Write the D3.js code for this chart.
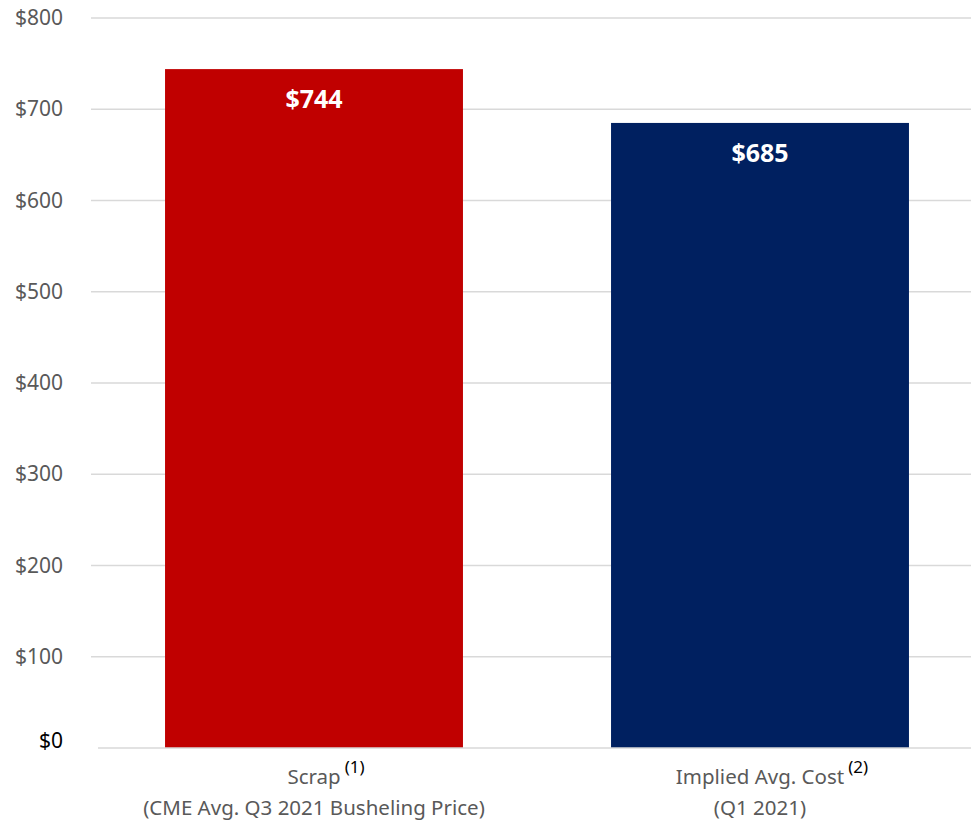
<!DOCTYPE html>
<html lang="en">
<head>
<meta charset="utf-8">
<title>Scrap vs Implied Avg. Cost</title>
<style>
body {
  margin: 0;
  background: #fff;
  font-family: "Noto Sans", "Open Sans", sans-serif;
}
</style>
</head>
<body>
<div id="app"></div>
<script src="https://cdn.jsdelivr.net/npm/d3@7/dist/d3.min.js"></script>
<script>
// data
const categories = ["Scrap", "Implied Avg. Cost"]
const notes = ["(1)", "(2)"]
const subLabels = ["(CME Avg. Q3 2021 Busheling Price)", "(Q1 2021)"]
const values = [744, 685]
const colors = ["#c00000", "#002060"]
const yTicks = [0, 100, 200, 300, 400, 500, 600, 700, 800]

const width = 971,
      height = 822,
      margin = ({top: 18, right: 0, bottom: 74, left: 91})

const svg = d3.select("#app").append("svg")
    .attr("width", width)
    .attr("height", height)
    .attr("viewBox", [0, 0, width, height])

const x = d3.scaleBand()
    .domain(categories)
    .range([margin.left, margin.left + 892])
    .paddingInner(0.332)
    .paddingOuter(0.166)

const y = d3.scaleLinear()
    .domain([0, 800])
    .range([height - margin.bottom, margin.top])

// gridlines
svg.append("g")
  .selectAll("line")
  .data(yTicks.filter(d => d > 0))
  .join("line")
    .attr("x1", margin.left)
    .attr("x2", width)
    .attr("y1", d => y(d))
    .attr("y2", d => y(d))
    .attr("stroke", "#d9d9d9")
    .attr("stroke-width", 1.5)

// y axis labels
svg.append("g")
    .attr("font-size", 21)
  .selectAll("text")
  .data(yTicks)
  .join("text")
    .attr("x", 63)
    .attr("y", d => y(d) + (d === 0 ? 0 : 7))
    .attr("text-anchor", "end")
    .attr("fill", d => d === 0 ? "#000" : "#595959")
    .text(d => "$" + d)

// bars
svg.append("g")
  .selectAll("rect")
  .data(values)
  .join("rect")
    .attr("x", (d, i) => x(categories[i]))
    .attr("y", d => y(d))
    .attr("width", x.bandwidth())
    .attr("height", d => y(0) - y(d))
    .attr("fill", (d, i) => colors[i])

// baseline
svg.append("line")
    .attr("x1", 98)
    .attr("x2", width)
    .attr("y1", y(0))
    .attr("y2", y(0))
    .attr("stroke", "#d9d9d9")
    .attr("stroke-width", 1.5)

// value labels
svg.append("g")
    .attr("font-size", 25)
    .attr("font-weight", "bold")
    .attr("fill", "#fff")
    .attr("text-anchor", "middle")
  .selectAll("text")
  .data(values)
  .join("text")
    .attr("x", (d, i) => x(categories[i]) + x.bandwidth() / 2)
    .attr("y", d => y(d) + 39)
    .text(d => "$" + d)

// category labels
const cat = svg.append("g")
    .attr("font-size", 20.5)
    .attr("fill", "#595959")
  .selectAll("g")
  .data(categories)
  .join("g")
    .attr("transform", d => `translate(${x(d) + x.bandwidth() / 2},0)`)

cat.append("text")
    .attr("y", 784)
    .attr("text-anchor", "middle")
    .text(d => d)

cat.append("text")
    .attr("x", function(d) { return this.parentNode.firstChild.getComputedTextLength() / 2 + 4 })
    .attr("y", 773)
    .attr("font-size", 17)
    .attr("fill", "#000")
    .text((d, i) => notes[i])

cat.append("text")
    .attr("y", 815)
    .attr("text-anchor", "middle")
    .text((d, i) => subLabels[i])
</script>
</body>
</html>
